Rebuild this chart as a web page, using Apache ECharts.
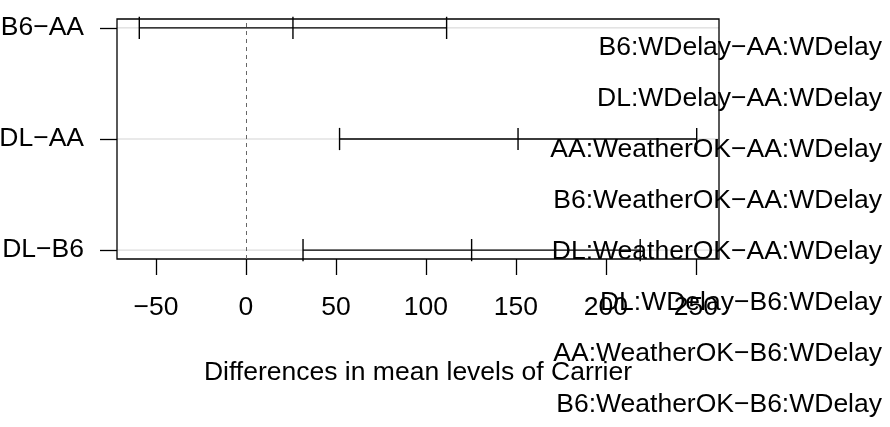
<!DOCTYPE html>
<html>
<head>
<meta charset="utf-8">
<script src="https://cdn.jsdelivr.net/npm/echarts@6/dist/echarts.min.js"></script>
<style>
html,body{margin:0;padding:0;background:#fff;}
#chart{width:890px;height:427px;}
</style>
</head>
<body>
<div id="chart"></div>
<script>
// Data
var categories = ['B6\u2212AA', 'DL\u2212AA', 'DL\u2212B6'];
var diffs = [26.1, 151.2, 125.4];
var lowers = [-59.3, 52.0, 31.7];
var uppers = [111.5, 250.5, 219.1];
var xTicks = [-50, 0, 50, 100, 150, 200, 250];
var xTitle = 'Differences in mean levels of Carrier';
var otherLabels = [
  'B6:WDelay\u2212AA:WDelay',
  'DL:WDelay\u2212AA:WDelay',
  'AA:WeatherOK\u2212AA:WDelay',
  'B6:WeatherOK\u2212AA:WDelay',
  'DL:WeatherOK\u2212AA:WDelay',
  'DL:WDelay\u2212B6:WDelay',
  'AA:WeatherOK\u2212B6:WDelay',
  'B6:WeatherOK\u2212B6:WDelay'
];

var n = categories.length;
var yvals = categories.map(function (c, i) { return n - i; });
var rows = categories.map(function (c, i) {
  return [lowers[i], diffs[i], uppers[i], yvals[i]];
});
var allX = lowers.concat(uppers);
var xmin = Math.min.apply(null, allX), xmax = Math.max.apply(null, allX);
var xr = xmax - xmin;
var ymin = Math.min.apply(null, yvals), ymax = Math.max.apply(null, yvals);
var yr = ymax - ymin;

var FONT = '"Liberation Sans", Arial, Helvetica, sans-serif';
var FS = 26.5;

var chart = echarts.init(document.getElementById('chart'));
chart.setOption({
  animation: false,
  backgroundColor: '#fff',
  textStyle: { fontFamily: FONT },
  grid: [
    { left: 117, right: 171, top: 19, bottom: 168, containLabel: false, outerBoundsMode: 'none',
      show: true, borderColor: '#000', borderWidth: 1.3, backgroundColor: 'transparent', z: 5 },
    { left: 882, right: 2, top: 48, bottom: 22, containLabel: false, outerBoundsMode: 'none', show: false }
  ],
  xAxis: [
    {
      type: 'value', gridIndex: 0,
      min: xmin - 0.04 * xr, max: xmax + 0.04 * xr,
      axisLine: { show: false, onZero: false },
      splitLine: { show: false },
      axisTick: { show: true, inside: false, length: 16, customValues: xTicks, lineStyle: { color: '#000', width: 1.3 } },
      axisLabel: { customValues: xTicks, margin: 35, color: '#000', fontSize: FS, fontFamily: FONT,
        formatter: function (v) { return v < 0 ? '\u2212' + Math.abs(v) : String(v); } },
      name: xTitle, nameLocation: 'middle', nameGap: 100,
      nameTextStyle: { color: '#000', fontSize: FS, fontFamily: FONT }
    },
    { type: 'value', gridIndex: 1, show: false }
  ],
  yAxis: [
    {
      type: 'value', gridIndex: 0,
      min: ymin - 0.04 * yr, max: ymax + 0.04 * yr,
      axisLine: { show: false, onZero: false },
      splitLine: { show: false },
      axisTick: { show: true, length: 17, customValues: yvals, lineStyle: { color: '#000', width: 1.3 } },
      axisLabel: { customValues: yvals, margin: 33, color: '#000', fontSize: FS, fontFamily: FONT,
        formatter: function (v) { var i = yvals.indexOf(Math.round(v)); return i >= 0 ? categories[i] : ''; } }
    },
    {
      type: 'category', gridIndex: 1, data: otherLabels, inverse: true, boundaryGap: false,
      axisLine: { show: false, onZero: false }, axisTick: { show: false }, splitLine: { show: false },
      axisLabel: { margin: 0, color: '#000', fontSize: FS, fontFamily: FONT, interval: 0 },
      z: 20
    }
  ],
  series: [
    {
      type: 'custom',
      xAxisIndex: 0, yAxisIndex: 0,
      data: rows,
      z: 3,
      renderItem: function (params, api) {
        var lw = api.value(0), d = api.value(1), up = api.value(2), y = api.value(3);
        var cs = params.coordSys;
        var gl = api.coord([xmin - 0.04 * xr, y]);
        var a = api.coord([lw, y]), b = api.coord([up, y]);
        var children = [
          { type: 'line', shape: { x1: cs.x, y1: gl[1], x2: cs.x + cs.width, y2: gl[1] }, style: { stroke: '#d3d3d3', lineWidth: 1 } },
          { type: 'line', shape: { x1: a[0], y1: a[1], x2: b[0], y2: b[1] }, style: { stroke: '#000', lineWidth: 1.4 }, z2: 5 }
        ];
        [lw, d, up].forEach(function (v) {
          var t = api.coord([v, y + 0.1]), bt = api.coord([v, y - 0.1]);
          children.push({ type: 'line', shape: { x1: t[0], y1: t[1], x2: bt[0], y2: bt[1] }, style: { stroke: '#000', lineWidth: 1.4 }, z2: 5 });
        });
        return { type: 'group', children: children };
      },
      clip: false,
      markLine: {
        silent: true, symbol: ['none', 'none'], label: { show: false },
        lineStyle: { color: '#666', type: [4, 4], width: 1 },
        data: [{ xAxis: 0 }]
      }
    }
  ]
});
</script>
</body>
</html>
